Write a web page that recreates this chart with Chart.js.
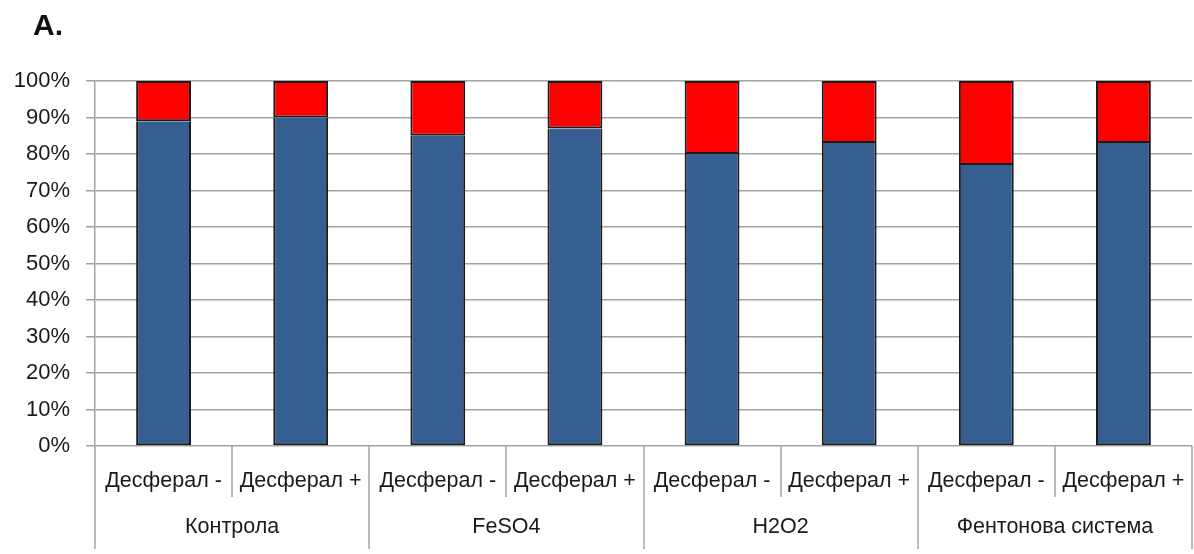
<!DOCTYPE html>
<html>
<head>
<meta charset="utf-8">
<script src="https://cdn.jsdelivr.net/npm/chart.js@4/dist/chart.umd.min.js"></script>
<style>
  html, body { margin: 0; padding: 0; background: #ffffff; }
  canvas { display: block; }
</style>
</head>
<body>
<canvas id="chart" width="1194" height="554"></canvas>
<script>
// Treatment groups and the two sub-conditions within each group
const groups = ['Контрола', 'FeSO4', 'H2O2', 'Фентонова система'];
const subLabels = [
  'Десферал -', 'Десферал +',
  'Десферал -', 'Десферал +',
  'Десферал -', 'Десферал +',
  'Десферал -', 'Десферал +'
];

// Share of each bar (percent); the two parts add up to 100
const blueShare = [89, 90, 85, 87, 80, 83, 77, 83];
const redShare  = [11, 10, 15, 13, 20, 17, 23, 17];

// Percent axis
const yMin = 0;
const yMax = 100;
const yStep = 10;

const FONT = '"Liberation Sans", Arial, sans-serif';
const GRID = '#a3a3a3';
const TEXT = '#1a1a1a';

// Draws the two-level category axis below the plot and the panel letter
const categoryAxis = {
  id: 'categoryAxis',
  afterDraw(chart) {
    const ctx = chart.ctx;
    const area = chart.chartArea;
    const xs = chart.scales.x;
    const n = subLabels.length;
    const step = (area.right - area.left) / n;
    ctx.save();

    // separators: short between sub-conditions, long between groups
    ctx.strokeStyle = GRID;
    ctx.lineWidth = 1.5;
    for (let i = 0; i <= n; i++) {
      const px = Math.round(xs.getPixelForValue(0) - step / 2 + i * step);
      const len = i % 2 === 0 ? 103 : 51;
      ctx.beginPath();
      ctx.moveTo(px, area.bottom);
      ctx.lineTo(px, area.bottom + len);
      ctx.stroke();
    }

    ctx.fillStyle = TEXT;
    ctx.textAlign = 'center';
    ctx.textBaseline = 'middle';
    ctx.font = '21.5px ' + FONT;
    subLabels.forEach((lab, i) => {
      ctx.fillText(lab, xs.getPixelForValue(i), area.bottom + 35);
    });
    groups.forEach((g, k) => {
      const mid = (xs.getPixelForValue(2 * k) + xs.getPixelForValue(2 * k + 1)) / 2;
      ctx.fillText(g, mid, area.bottom + 81);
    });

    ctx.textAlign = 'left';
    ctx.textBaseline = 'alphabetic';
    ctx.font = 'bold 30px ' + FONT;
    ctx.fillStyle = '#111111';
    ctx.fillText('A.', 33, 35);
    ctx.restore();
  }
};

new Chart(document.getElementById('chart'), {
  type: 'bar',
  data: {
    labels: subLabels,
    datasets: [
      {
        data: blueShare,
        backgroundColor: '#375e91',
        borderColor: '#1a1a1a',
        borderWidth: 2,
        borderSkipped: 'top'
      },
      {
        data: redShare,
        backgroundColor: '#ff0000',
        borderColor: '#1a1a1a',
        borderWidth: 2,
        borderSkipped: false
      }
    ]
  },
  options: {
    responsive: false,
    animation: false,
    devicePixelRatio: 1,
    layout: { padding: { left: 0, top: 81, right: 2, bottom: 108 } },
    datasets: {
      bar: { categoryPercentage: 1.0, barPercentage: 0.4 }
    },
    plugins: {
      legend: { display: false },
      tooltip: { enabled: false },
      title: { display: false }
    },
    scales: {
      x: {
        stacked: true,
        offset: true,
        grid: { display: false },
        border: { display: false },
        ticks: { display: false },
        afterFit(scale) { scale.height = 0; }
      },
      y: {
        stacked: true,
        min: yMin,
        max: yMax,
        afterFit(scale) { scale.width = 95; },
        ticks: {
          stepSize: yStep,
          padding: 16,
          color: TEXT,
          font: { family: FONT, size: 22 },
          callback: (v) => v + '%'
        },
        grid: {
          color: GRID,
          lineWidth: 1.5,
          tickLength: 9,
          drawTicks: true
        },
        border: { display: true, color: GRID, width: 1.5 }
      }
    }
  },
  plugins: [categoryAxis]
});
</script>
</body>
</html>
